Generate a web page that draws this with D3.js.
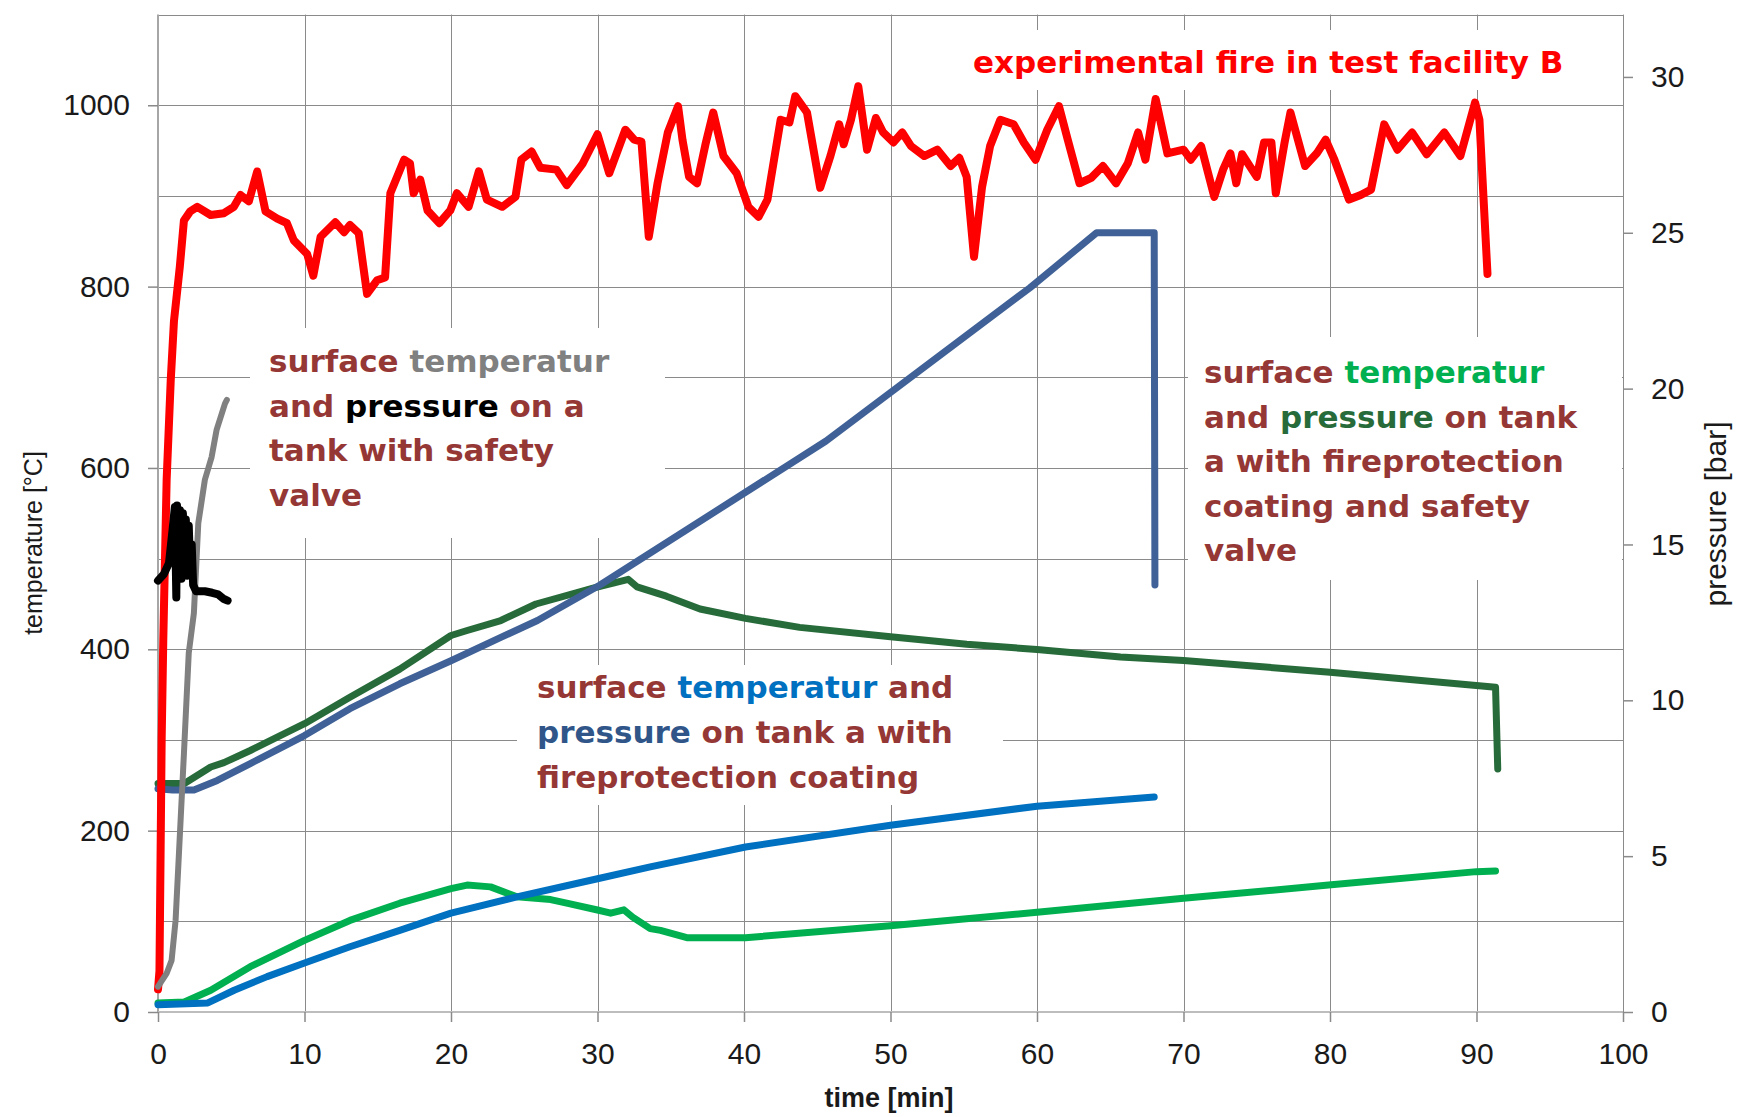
<!DOCTYPE html>
<html>
<head>
<meta charset="utf-8">
<script src="https://cdn.jsdelivr.net/npm/d3@7"></script>
<style>
  html, body { margin: 0; padding: 0; background: #fff; }
  svg text { white-space: pre; }
</style>
</head>
<body>
<div id="chart"></div>
<script>
// ------------------------------ DATA (time [min], value) ------------------------------
// temperatures on the left axis [°C]
var fireTemp = [[0, 25], [0.1, 45], [0.25, 300], [0.36, 410], [0.59, 587], [0.87, 697], [1.09, 762], [1.49, 822],
    [1.77, 873], [2.2, 883], [2.68, 888], [3.59, 879], [4.5, 881], [5.18, 888], [5.64, 901], [6.2, 894], [6.77, 927],
    [7.34, 883], [8.14, 875], [8.8, 870], [9.27, 851], [10.18, 836], [10.6, 812], [11.1, 855], [12.1, 871], [12.7, 860],
    [13.1, 868], [13.7, 859], [14.27, 792], [14.95, 807], [15.5, 810], [15.86, 903], [16.8, 940], [17.2, 936],
    [17.45, 903], [17.9, 918], [18.4, 884], [19.2, 870], [19.95, 884], [20.4, 903], [21.2, 888], [21.9, 927],
    [22.45, 896], [23.5, 888], [24.4, 899], [24.8, 940], [25.5, 949], [26.1, 931], [27.2, 929], [27.9, 912],
    [29.0, 936], [30.0, 968], [30.8, 925], [31.9, 973], [32.5, 962], [33.0, 960], [33.5, 855], [34.1, 914],
    [34.8, 970], [35.5, 999], [35.8, 962], [36.25, 921], [36.8, 914], [37.4, 959], [37.9, 992], [38.6, 944],
    [39.5, 925], [40.3, 888], [41.0, 877], [41.6, 896], [42.5, 984], [43.1, 981], [43.5, 1010], [44.3, 992],
    [45.2, 909], [45.9, 944], [46.5, 979], [46.8, 957], [47.3, 984], [47.8, 1021], [48.4, 951], [49.0, 986],
    [49.5, 970], [50.2, 959], [50.8, 970], [51.4, 955], [52.3, 944], [53.2, 951], [54.1, 933], [54.7, 942],
    [55.2, 921], [55.7, 833], [56.25, 910], [56.8, 955], [57.5, 984], [58.4, 979], [59.1, 959], [59.9, 940],
    [60.7, 973], [61.5, 999], [62.1, 962], [62.9, 914], [63.7, 920], [64.5, 933], [65.4, 914], [66.2, 936],
    [66.9, 970], [67.4, 940], [68.1, 1007], [68.9, 947], [70.0, 951], [70.5, 940], [71.2, 955], [72.1, 899],
    [72.7, 929], [73.2, 947], [73.6, 914], [74.0, 946], [75.0, 921], [75.5, 959], [76.0, 959], [76.3, 903],
    [76.9, 959], [77.3, 992], [78.3, 933], [79.1, 947], [79.7, 962], [80.3, 940], [81.3, 896], [82.1, 901],
    [82.8, 907], [83.7, 979], [84.6, 951], [85.6, 970], [86.6, 946], [87.8, 970], [88.9, 944], [89.9, 1003],
    [90.2, 984], [90.75, 814]];

var valveTankTemp = [[0, 28], [0.6, 43], [0.93, 57], [1.2, 101], [1.43, 175], [1.77, 285], [2.1, 396], [2.45, 440],
    [2.75, 539], [3.2, 587], [3.66, 612], [4.0, 642], [4.57, 671], [4.7, 675]];

var coatValveTemp = [[0, 10], [1.8, 11], [3.6, 24], [6.3, 50], [10, 79], [13.1, 101], [16.5, 120], [20, 136],
    [21.1, 140], [22.7, 138], [24.5, 127], [26.8, 124], [27.9, 120], [30, 112.5], [30.9, 109], [31.8, 112.7],
    [32.4, 104.6], [33.6, 92], [34.3, 90], [36.1, 82], [40.1, 82], [50, 95], [60, 110], [70, 125.4], [79.9, 140],
    [90, 154.8], [91.3, 155.5]];

var coatTemp = [[0, 8], [3.4, 10], [5.2, 24], [7.45, 39], [10, 54], [13.1, 72], [16.5, 90], [20, 109], [24.5, 127],
    [30, 147], [33.6, 160], [40.1, 182], [50, 206], [60, 227], [68, 237]];

// pressures on the right axis [bar]
var valveTankPressure = [[0, 13.84], [0.4, 14.05], [0.75, 14.4], [1.0, 15.5], [1.15, 16.2], [1.25, 13.3], [1.3, 16.25],
    [1.4, 14.0], [1.5, 16.1], [1.6, 13.9], [1.7, 16.0], [1.8, 14.2], [1.9, 15.8], [2.0, 14.0], [2.1, 15.6],
    [2.2, 14.1], [2.3, 15.0], [2.4, 13.7], [2.6, 13.5], [3.2, 13.5], [3.7, 13.45], [4.1, 13.4], [4.5, 13.25],
    [4.75, 13.2]];

var coatPressure = [[0, 7.16], [1, 7.12], [2.45, 7.12], [4.05, 7.43], [6.3, 7.97], [10, 8.87], [13.1, 9.73],
    [16.5, 10.53], [20, 11.27], [23.4, 12.02], [25.9, 12.56], [30.17, 13.7], [45.6, 18.32], [59.5, 23.23],
    [64.07, 25], [68, 25], [68.05, 13.7]];

var coatValvePressure = [[0, 7.33], [1.8, 7.33], [3.6, 7.86], [4.5, 8.0], [6.3, 8.39], [10, 9.25], [13.1, 10.1],
    [16.5, 11.0], [20, 12.08], [21.1, 12.24], [23.4, 12.56], [25.8, 13.09], [29.7, 13.6], [32.1, 13.88],
    [32.7, 13.64], [34.7, 13.34], [37, 12.93], [40.1, 12.63], [43.8, 12.34], [50, 12.04], [55.2, 11.8],
    [60, 11.63], [65.7, 11.39], [70, 11.28], [80, 10.9], [91.3, 10.42], [91.45, 7.8]];

// ------------------------------ TICKS -------------------------------
var timeTicks = [0, 10, 20, 30, 40, 50, 60, 70, 80, 90, 100],
    tempTicks = [0, 200, 400, 600, 800, 1000],
    tempGrid = [100, 200, 300, 400, 500, 600, 700, 800, 900, 1000, 1100],
    pressureTicks = [0, 5, 10, 15, 20, 25, 30];

// ------------------------------ LABELS ------------------------------
var brown = "#953735";
var fireLabel = [[["experimental fire in test facility B", "#ff0000"]]];
var valveLabel = [
    [["surface ", brown], ["temperatur", "#808080"]],
    [["and ", brown], ["pressure", "#000000"], [" on a", brown]],
    [["tank with safety", brown]],
    [["valve", brown]]
];
var coatValveLabel = [
    [["surface ", brown], ["temperatur", "#00b050"]],
    [["and ", brown], ["pressure", "#276b3a"], [" on tank", brown]],
    [["a with fireprotection", brown]],
    [["coating and safety", brown]],
    [["valve", brown]]
];
var coatLabel = [
    [["surface ", brown], ["temperatur", "#0070c0"], [" and", brown]],
    [["pressure", "#2f5589"], [" on tank a with", brown]],
    [["fireprotection coating", brown]]
];

// ------------------------------ PLOTTING CONFIG ------------------------------
var width = 1738, height = 1117,
    plotLeft = 158, plotRight = 1623, plotTop = 14.6, plotBottom = 1012;

var svg = d3.select("#chart").append("svg")
    .attr("width", width)
    .attr("height", height)
    .style("font-family", "'Liberation Sans', Arial, sans-serif");

var x = d3.scaleLinear().domain([0, 100]).range([plotLeft, plotRight]),
    yT = d3.scaleLinear().domain([0, 1100]).range([plotBottom, plotTop]),
    yP = d3.scaleLinear().domain([0, 32]).range([plotBottom, plotTop]);

// grid
var grid = svg.append("g").attr("stroke", "#8a8a8a").attr("stroke-width", 1);
grid.selectAll("line.h").data(tempGrid).enter().append("line")
    .attr("x1", plotLeft).attr("x2", plotRight)
    .attr("y1", function (d) {return Math.round(yT(d)) + 0.5;})
    .attr("y2", function (d) {return Math.round(yT(d)) + 0.5;});
grid.selectAll("line.v").data(timeTicks.slice(1)).enter().append("line")
    .attr("y1", plotTop).attr("y2", plotBottom)
    .attr("x1", function (d) {return Math.round(x(d)) + 0.5;})
    .attr("x2", function (d) {return Math.round(x(d)) + 0.5;});

// axis lines
svg.append("line").attr("x1", plotLeft).attr("x2", plotLeft).attr("y1", plotTop).attr("y2", plotBottom)
    .attr("stroke", "#a6a6a6").attr("stroke-width", 2);
svg.append("line").attr("x1", plotLeft).attr("x2", plotRight).attr("y1", plotBottom).attr("y2", plotBottom)
    .attr("stroke", "#bdbdbd").attr("stroke-width", 2);

// white label boxes hide the grid behind the texts
var boxes = [[965, 30, 625, 60], [250, 328, 415, 210], [1188, 337, 434, 243], [517, 665, 486, 140]];
svg.selectAll("rect.box").data(boxes).enter().append("rect")
    .attr("x", function (d) {return d[0];}).attr("y", function (d) {return d[1];})
    .attr("width", function (d) {return d[2];}).attr("height", function (d) {return d[3];})
    .attr("fill", "#fff");

// axes
function styleAxis(g) {
    g.select(".domain").remove();
    g.selectAll(".tick line").attr("stroke", "#8a8a8a").attr("stroke-width", 1.5);
    g.selectAll(".tick text").attr("fill", "#1a1a1a").style("font-size", "30px")
        .style("font-family", "'Liberation Sans', Arial, sans-serif");
}
svg.append("g").attr("transform", "translate(" + plotLeft + ",0)")
    .call(d3.axisLeft(yT).tickValues(tempTicks).tickSize(10).tickPadding(18).tickFormat(d3.format("d")))
    .call(styleAxis);
svg.append("g").attr("transform", "translate(0," + plotBottom + ")")
    .call(d3.axisBottom(x).tickValues(timeTicks).tickSize(10).tickPadding(21).tickFormat(d3.format("d")))
    .call(styleAxis);
svg.append("g").attr("transform", "translate(" + plotRight + ",0)")
    .call(d3.axisRight(yP).tickValues(pressureTicks).tickSize(10).tickPadding(18).tickFormat(d3.format("d")))
    .call(styleAxis);

// axis titles
svg.append("text").attr("transform", "translate(42,543) rotate(-90)")
    .attr("text-anchor", "middle").style("font-size", "25px").attr("fill", "#1a1a1a")
    .text("temperature [°C]");
svg.append("text").attr("transform", "translate(1726,514) rotate(-90)")
    .attr("text-anchor", "middle").style("font-size", "30px").attr("fill", "#1a1a1a")
    .text("pressure [bar]");
svg.append("text").attr("x", 889).attr("y", 1107)
    .attr("text-anchor", "middle").style("font-size", "27px").style("font-weight", "bold").attr("fill", "#1a1a1a")
    .text("time [min]");

// ------------------------------ SERIES ------------------------------
function drawSeries(data, yScale, color, w) {
    var line = d3.line()
        .x(function (d) {return x(d[0]);})
        .y(function (d) {return yScale(d[1]);});
    svg.append("path").datum(data)
        .attr("d", line)
        .attr("fill", "none")
        .attr("stroke", color)
        .attr("stroke-width", w)
        .attr("stroke-linejoin", "round")
        .attr("stroke-linecap", "round");
}
drawSeries(coatValvePressure, yP, "#276b3a", 7);
drawSeries(coatPressure, yP, "#3f6197", 7);
drawSeries(coatValveTemp, yT, "#00b050", 7);
drawSeries(coatTemp, yT, "#0070c0", 7);
drawSeries(fireTemp, yT, "#ff0000", 8);
drawSeries(valveTankTemp, yT, "#808080", 6);
drawSeries(valveTankPressure, yP, "#000000", 8);

// ------------------------------ ANNOTATIONS ------------------------------
function drawLabel(lines, x0, y0, lineGap) {
    var t = svg.append("text")
        .style("font-family", "'DejaVu Sans', Verdana, sans-serif")
        .style("font-size", "31px")
        .style("font-weight", "bold");
    lines.forEach(function (parts, i) {
        parts.forEach(function (p, j) {
            var ts = t.append("tspan").attr("fill", p[1]).text(p[0]);
            if (j === 0) {ts.attr("x", x0).attr("y", y0 + i * lineGap);}
        });
    });
}
drawLabel(fireLabel, 973, 73, 0);
drawLabel(valveLabel, 269, 372, 44.5);
drawLabel(coatValveLabel, 1204, 383, 44.5);
drawLabel(coatLabel, 537, 698, 45);
</script>
</body>
</html>
